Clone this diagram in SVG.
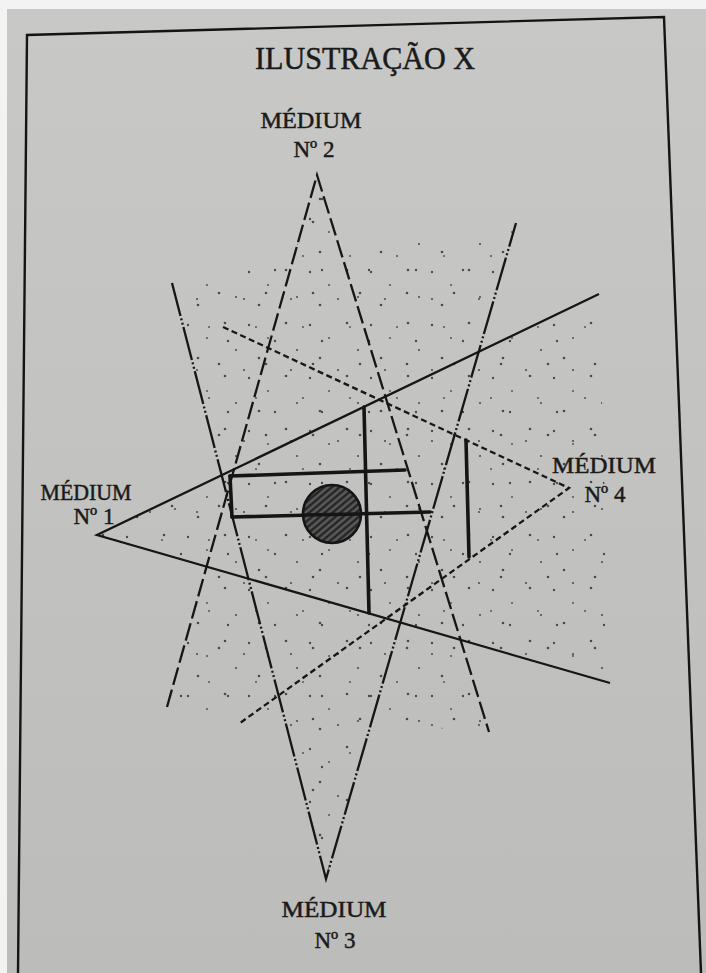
<svg xmlns="http://www.w3.org/2000/svg" width="706" height="973" viewBox="0 0 706 973">
  <style>
    .lbl { font-family: "Liberation Serif", "DejaVu Serif", serif; font-size: 23px; fill: #1a1a1a; stroke: #1a1a1a; stroke-width: 0.45; text-anchor: middle; }
    .title { font-family: "Liberation Serif", "DejaVu Serif", serif; font-size: 32px; fill: #1a1a1a; stroke: #1a1a1a; stroke-width: 0.5; text-anchor: middle; }
    .ln { fill: none; stroke: #161616; stroke-width: 2.3; stroke-linejoin: miter; }
    .m2 { stroke-dasharray: 18 5; }
    .m3 { stroke-dasharray: 34 2.5 2 2.5 2 2.5; }
    .m4 { stroke-dasharray: 6 3.5; }
    .thick { fill: none; stroke: #151515; stroke-width: 3.6; stroke-linecap: round; }
  </style>
  <defs>
    <linearGradient id="pageGrad" x1="0" y1="0" x2="0" y2="1">
      <stop offset="0" stop-color="#c8c8c6"/>
      <stop offset="1" stop-color="#bcbcba"/>
    </linearGradient>
    <pattern id="dotsA" width="61" height="53" patternUnits="userSpaceOnUse">
      <circle cx="5" cy="7" r="1.2" fill="#4a4a4a"/>
      <circle cx="24" cy="20" r="1" fill="#555"/>
      <circle cx="42" cy="5" r="1.3" fill="#4a4a4a"/>
      <circle cx="53" cy="32" r="1.1" fill="#505050"/>
      <circle cx="15" cy="40" r="1.3" fill="#4a4a4a"/>
    </pattern>
    <pattern id="dotsB" width="47" height="71" patternUnits="userSpaceOnUse">
      <circle cx="9" cy="15" r="1.1" fill="#505050"/>
      <circle cx="31" cy="9" r="1.3" fill="#4a4a4a"/>
      <circle cx="21" cy="43" r="1" fill="#555"/>
      <circle cx="40" cy="57" r="1.2" fill="#4a4a4a"/>
    </pattern>
    <pattern id="hatch" width="5" height="5" patternUnits="userSpaceOnUse" patternTransform="rotate(-40)">
      <rect width="5" height="5" fill="#5a5a5a"/>
      <line x1="0" y1="1.5" x2="5" y2="1.5" stroke="#1e1e1e" stroke-width="2.2"/>
    </pattern>
    <clipPath id="fan">
      <polygon points="97,535 599,294 610,683"/>
      <polygon points="317,175 167,707 489,732"/>
      <polygon points="326,879 172,283 516,223"/>
      <polygon points="569,488 223,327 240,723"/>
    </clipPath>
  </defs>

  <!-- page -->
  <rect width="706" height="973" fill="#f3f3f3"/>
  <rect x="7" y="9" width="699" height="964" fill="url(#pageGrad)"/>

  <!-- frame -->
  <polyline id="frame" points="18,973 27,35 664,17 701,973" fill="none" stroke="#141414" stroke-width="2.4"/>

  <!-- title -->
  <g id="title">
    <text class="title" x="365" y="69" textLength="220" lengthAdjust="spacingAndGlyphs">ILUSTRAÇÃO X</text>
  </g>

  <!-- stippled field -->
  <g id="stipple" clip-path="url(#fan)">
    <rect x="90" y="170" width="530" height="720" fill="url(#dotsA)"/>
    <rect x="90" y="170" width="530" height="720" fill="url(#dotsB)"/>
  </g>

  <!-- nodes -->
  <g id="medium-1">
    <text class="lbl" x="86" y="500" textLength="91" lengthAdjust="spacingAndGlyphs">MÉDIUM</text>
    <text class="lbl" x="94" y="524">Nº 1</text>
  </g>
  <g id="medium-2">
    <text class="lbl" x="311" y="128" textLength="101" lengthAdjust="spacingAndGlyphs">MÉDIUM</text>
    <text class="lbl" x="314" y="157">Nº 2</text>
  </g>
  <g id="medium-3">
    <text class="lbl" x="334" y="917" textLength="105" lengthAdjust="spacingAndGlyphs">MÉDIUM</text>
    <text class="lbl" x="335" y="948">Nº 3</text>
  </g>
  <g id="medium-4">
    <text class="lbl" x="604" y="473" textLength="104" lengthAdjust="spacingAndGlyphs">MÉDIUM</text>
    <text class="lbl" x="605" y="502">Nº 4</text>
  </g>

  <!-- connectors: sight lines of each medium -->
  <g id="connectors">
    <polyline class="ln" points="599,294 97,535 610,683"/>
    <polyline class="ln m2" points="167,707 317,175 489,732"/>
    <polyline class="ln m3" points="172,283 326,879 516,223"/>
    <polyline class="ln m4" points="223,327 569,488 240,723"/>
  </g>

  <!-- central object -->
  <g id="object">
    <line class="thick" x1="230" y1="476" x2="405" y2="470"/>
    <line class="thick" x1="232" y1="517" x2="430" y2="512"/>
    <line class="thick" x1="230" y1="476" x2="232" y2="517"/>
    <line class="thick" x1="364" y1="407" x2="369" y2="613"/>
    <line class="thick" x1="466" y1="440" x2="469" y2="557"/>
    <circle cx="332" cy="514" r="29" fill="url(#hatch)" stroke="#151515" stroke-width="2.6"/>
    <line class="thick" x1="304" y1="515" x2="360" y2="514"/>
  </g>
</svg>
